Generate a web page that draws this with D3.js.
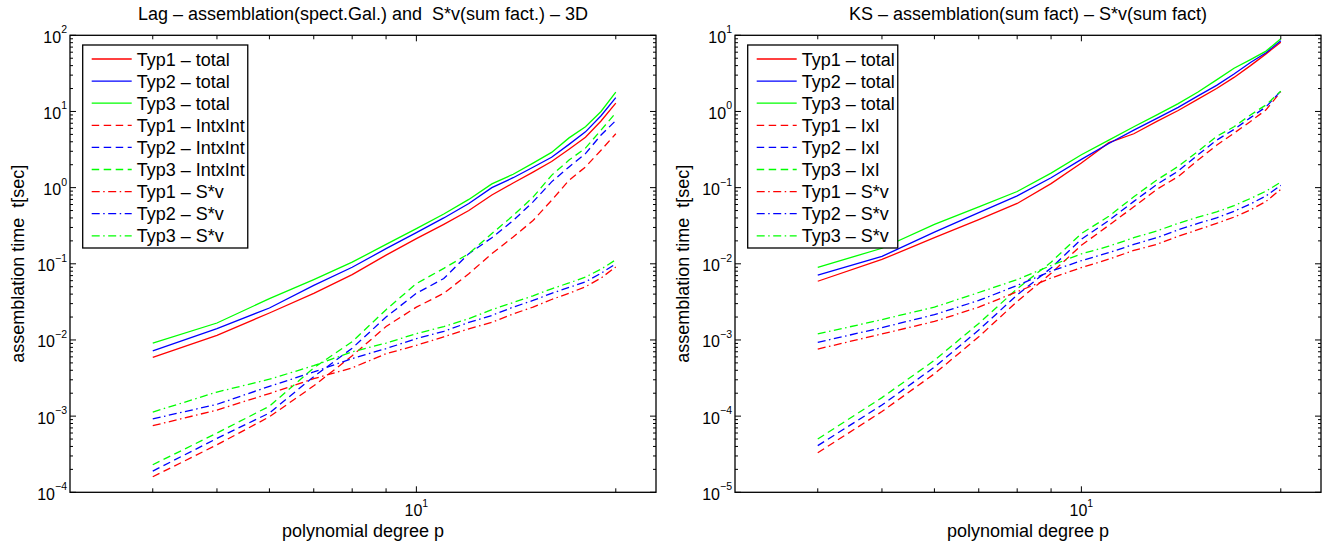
<!DOCTYPE html>
<html>
<head>
<meta charset="utf-8">
<script src="https://cdn.jsdelivr.net/npm/d3@7"></script>
<style>
  body { margin: 0; background: #fff; }
  svg text { font-family: "Liberation Sans", Arial, Helvetica, sans-serif; fill: #000; }
</style>
</head>
<body>
<svg id="chart" width="1329" height="544"></svg>
<script>
// polynomial degrees (x values)
var degrees = [4, 5, 6, 7, 8, 9, 10, 11, 12, 13, 14, 15, 16, 17, 18, 19, 20];

// Lag – spectral Galerkin assembly + S*v
var lagTyp1Total = [0.0059, 0.0115, 0.0226, 0.041, 0.072, 0.13, 0.214, 0.33, 0.5, 0.8, 1.15, 1.6, 2.2, 3.2, 4.6, 7.5, 12.9];
var lagTyp2Total = [0.0072, 0.0141, 0.0263, 0.052, 0.09, 0.158, 0.257, 0.4, 0.62, 1.0, 1.35, 1.85, 2.5, 3.7, 5.4, 8.8, 15.2];
var lagTyp3Total = [0.0091, 0.0167, 0.0349, 0.062, 0.105, 0.18, 0.29, 0.45, 0.7, 1.12, 1.5, 2.1, 2.9, 4.5, 6.3, 10, 18];
var lagTyp1Int = [1.6e-4, 4.2e-4, 9.8e-4, 2.5e-3, 6.2e-3, 0.015, 0.027, 0.041, 0.074, 0.136, 0.225, 0.37, 0.68, 1.25, 1.87, 3.1, 5.1];
var lagTyp2Int = [1.9e-4, 5.1e-4, 1.1e-3, 3.3e-3, 7.8e-3, 0.020, 0.041, 0.064, 0.136, 0.22, 0.37, 0.65, 1.19, 1.87, 2.8, 4.9, 7.6];
var lagTyp3Int = [2.3e-4, 6.0e-4, 1.35e-3, 4.3e-3, 9.5e-3, 0.025, 0.055, 0.087, 0.136, 0.25, 0.43, 0.75, 1.45, 2.3, 3.3, 5.7, 9.6];
var lagTyp1Sv = [7.5e-4, 1.2e-3, 1.98e-3, 3.1e-3, 4.3e-3, 6.6e-3, 0.0085, 0.011, 0.014, 0.017, 0.022, 0.027, 0.034, 0.041, 0.05, 0.065, 0.091];
var lagTyp2Sv = [9.2e-4, 1.43e-3, 2.46e-3, 3.8e-3, 5.7e-3, 7.7e-3, 0.0104, 0.013, 0.017, 0.021, 0.027, 0.033, 0.041, 0.049, 0.058, 0.075, 0.1];
var lagTyp3Sv = [1.13e-3, 2.07e-3, 3.05e-3, 4.6e-3, 7.0e-3, 9.1e-3, 0.0121, 0.015, 0.019, 0.025, 0.031, 0.038, 0.047, 0.056, 0.067, 0.085, 0.113];

// KS – sum factorisation assembly + S*v
var ksTyp1Total = [0.0059, 0.0114, 0.022, 0.038, 0.062, 0.113, 0.21, 0.39, 0.51, 0.74, 1.03, 1.45, 2.0, 2.8, 4.0, 5.7, 8.1];
var ksTyp2Total = [0.0071, 0.0125, 0.026, 0.047, 0.078, 0.135, 0.235, 0.38, 0.57, 0.81, 1.13, 1.6, 2.2, 3.1, 4.4, 5.9, 8.5];
var ksTyp3Total = [0.009, 0.016, 0.033, 0.056, 0.089, 0.155, 0.27, 0.42, 0.63, 0.9, 1.27, 1.8, 2.6, 3.7, 4.8, 6.2, 9.0];
var ksTyp1IxI = [3.3e-5, 1.15e-4, 3.6e-4, 1.1e-3, 3.2e-3, 7.5e-3, 0.0175, 0.032, 0.056, 0.095, 0.14, 0.23, 0.36, 0.52, 0.74, 1.05, 1.82];
var ksTyp2IxI = [4.1e-5, 1.4e-4, 4.4e-4, 1.35e-3, 3.9e-3, 8.8e-3, 0.021, 0.037, 0.066, 0.11, 0.165, 0.27, 0.42, 0.58, 0.83, 1.15, 1.85];
var ksTyp3IxI = [5.0e-5, 1.75e-4, 5.4e-4, 1.65e-3, 4.7e-3, 0.0105, 0.025, 0.042, 0.076, 0.126, 0.19, 0.30, 0.47, 0.63, 0.9, 1.22, 1.85];
var ksTyp1Sv = [7.6e-4, 1.2e-3, 1.75e-3, 2.7e-3, 4.3e-3, 6.5e-3, 0.0089, 0.0115, 0.015, 0.018, 0.023, 0.028, 0.034, 0.041, 0.051, 0.066, 0.095];
var ksTyp2Sv = [9.3e-4, 1.45e-3, 2.15e-3, 3.3e-3, 5.2e-3, 8.0e-3, 0.011, 0.014, 0.018, 0.022, 0.028, 0.034, 0.04, 0.049, 0.061, 0.078, 0.107];
var ksTyp3Sv = [1.2e-3, 1.85e-3, 2.7e-3, 4.2e-3, 6.2e-3, 9.5e-3, 0.0135, 0.017, 0.022, 0.027, 0.034, 0.041, 0.048, 0.058, 0.072, 0.09, 0.118];

var lagLabels = ["Typ1 \u2013 total", "Typ2 \u2013 total", "Typ3 \u2013 total",
                 "Typ1 \u2013 IntxInt", "Typ2 \u2013 IntxInt", "Typ3 \u2013 IntxInt",
                 "Typ1 \u2013 S*v", "Typ2 \u2013 S*v", "Typ3 \u2013 S*v"];
var ksLabels = ["Typ1 \u2013 total", "Typ2 \u2013 total", "Typ3 \u2013 total",
                "Typ1 \u2013 IxI", "Typ2 \u2013 IxI", "Typ3 \u2013 IxI",
                "Typ1 \u2013 S*v", "Typ2 \u2013 S*v", "Typ3 \u2013 S*v"];

var xDomain = [3, 23];
var colors = ["#ff0000", "#0000ff", "#00ff00"];
var dashes = [null, "7.5,4.5", "8,3.5,1.5,3.5"];

var svg = d3.select("#chart");
var plotTop = 35.3, plotBottom = 492.3, panelW = 586;

function drawPanel(left, title, yDomain, series, labels) {
  var right = left + panelW;
  var x = d3.scaleLog().domain(xDomain).range([left, right]);
  var y = d3.scaleLog().domain(yDomain).range([plotBottom, plotTop]);
  var g = svg.append("g");

  g.append("rect")
    .attr("x", left).attr("y", plotTop)
    .attr("width", panelW).attr("height", plotBottom - plotTop)
    .attr("fill", "#fff");

  // lines
  var line = d3.line()
    .x(function(d) { return x(d[0]); })
    .y(function(d) { return y(d[1]); });
  series.forEach(function(s, i) {
    var pts = degrees.map(function(p, j) { return [p, s[j]]; });
    g.append("path")
      .attr("d", line(pts))
      .attr("fill", "none")
      .attr("stroke", colors[i % 3])
      .attr("stroke-width", 1.3)
      .attr("stroke-dasharray", dashes[Math.floor(i / 3)]);
  });

  // ticks, pointing inward on all four sides
  var isMajor = function(v) { return Math.abs(Math.log10(v) - Math.round(Math.log10(v))) < 1e-9; };
  y.ticks().forEach(function(v) {
    var len = isMajor(v) ? 6 : 3;
    var yy = y(v);
    g.append("line").attr("x1", left).attr("x2", left + len).attr("y1", yy).attr("y2", yy)
      .attr("stroke", "#000").attr("stroke-width", 1);
    g.append("line").attr("x1", right).attr("x2", right - len).attr("y1", yy).attr("y2", yy)
      .attr("stroke", "#000").attr("stroke-width", 1);
    if (isMajor(v)) {
      var t = g.append("text")
        .attr("x", left - 3).attr("y", yy + 7.5)
        .attr("text-anchor", "end")
        .style("font-size", "16px");
      t.append("tspan").text("10");
      var e = Math.round(Math.log10(v));
      t.append("tspan").attr("dy", -9.5).style("font-size", "10.5px")
        .text(e < 0 ? "\u2212" + (-e) : String(e));
    }
  });
  x.ticks().forEach(function(v) {
    if (v <= xDomain[0] || v >= xDomain[1]) return;
    var len = isMajor(v) ? 6 : 4;
    var xx = x(v);
    g.append("line").attr("x1", xx).attr("x2", xx).attr("y1", plotBottom).attr("y2", plotBottom - len)
      .attr("stroke", "#000").attr("stroke-width", 1);
    g.append("line").attr("x1", xx).attr("x2", xx).attr("y1", plotTop).attr("y2", plotTop + len)
      .attr("stroke", "#000").attr("stroke-width", 1);
    if (isMajor(v)) {
      var t = g.append("text")
        .attr("x", xx).attr("y", plotBottom + 24)
        .attr("text-anchor", "middle")
        .style("font-size", "16px");
      t.append("tspan").text("10");
      t.append("tspan").attr("dy", -9.5).style("font-size", "10.5px")
        .text(String(Math.round(Math.log10(v))));
    }
  });

  // box
  g.append("rect")
    .attr("x", left).attr("y", plotTop)
    .attr("width", panelW).attr("height", plotBottom - plotTop)
    .attr("fill", "none").attr("stroke", "#000").attr("stroke-width", 1.3);

  // titles
  g.append("text")
    .attr("x", left + panelW / 2).attr("y", 20)
    .attr("text-anchor", "middle")
    .style("font-size", "18px")
    .style("white-space", "pre")
    .text(title);
  g.append("text")
    .attr("x", left + panelW / 2).attr("y", 537)
    .attr("text-anchor", "middle")
    .style("font-size", "18px")
    .text("polynomial degree p");
  g.append("text")
    .attr("transform", "translate(" + (left - 46) + "," + ((plotTop + plotBottom) / 2) + ") rotate(-90)")
    .attr("text-anchor", "middle")
    .style("font-size", "18px")
    .style("white-space", "pre")
    .text("assemblation time  t[sec]");

  // legend
  var lx = left + 12.7, ly = 45, rowH = 22.1;
  var leg = g.append("g");
  var box = leg.append("rect")
    .attr("x", lx).attr("y", ly)
    .attr("height", 203)
    .attr("fill", "#fff").attr("stroke", "#000").attr("stroke-width", 1.3);
  var maxW = 0;
  labels.forEach(function(lab, i) {
    var ry = ly + 14 + i * rowH;
    leg.append("line")
      .attr("x1", lx + 9).attr("x2", lx + 49)
      .attr("y1", ry).attr("y2", ry)
      .attr("stroke", colors[i % 3])
      .attr("stroke-width", 1.3)
      .attr("stroke-dasharray", dashes[Math.floor(i / 3)]);
    var t = leg.append("text")
      .attr("x", lx + 54).attr("y", ry + 6.5)
      .style("font-size", "18px")
      .text(lab);
    maxW = Math.max(maxW, t.node().getComputedTextLength());
  });
  box.attr("width", 54 + maxW + 3);
}

drawPanel(70, "Lag \u2013 assemblation(spect.Gal.) and  S*v(sum fact.) \u2013 3D", [1e-4, 100],
  [lagTyp1Total, lagTyp2Total, lagTyp3Total, lagTyp1Int, lagTyp2Int, lagTyp3Int, lagTyp1Sv, lagTyp2Sv, lagTyp3Sv],
  lagLabels);
drawPanel(735, "KS \u2013 assemblation(sum fact) \u2013 S*v(sum fact)", [1e-5, 10],
  [ksTyp1Total, ksTyp2Total, ksTyp3Total, ksTyp1IxI, ksTyp2IxI, ksTyp3IxI, ksTyp1Sv, ksTyp2Sv, ksTyp3Sv],
  ksLabels);
</script>
</body>
</html>
